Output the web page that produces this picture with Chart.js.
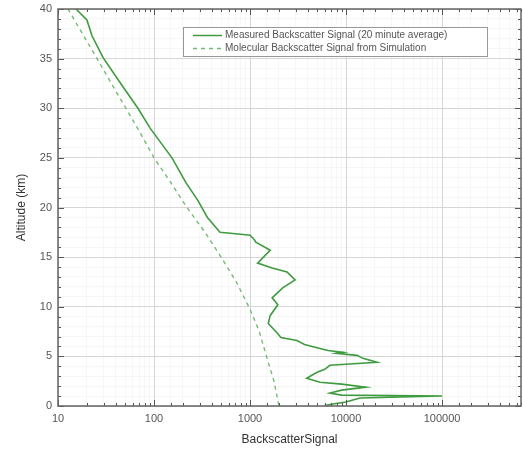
<!DOCTYPE html>
<html>
<head>
<meta charset="utf-8">
<script src="https://cdn.jsdelivr.net/npm/chart.js@4"></script>
<style>
  html, body { margin: 0; padding: 0; background: #fff; }
  #wrap { width: 523px; height: 451px; }
</style>
</head>
<body>
<div id="wrap"><canvas id="myChart" width="523" height="451"></canvas></div>
<script>
// measured backscatter (20 min average)
const measuredAlt = [40, 38.9, 37.3, 35.1, 32.5, 30, 28, 25, 22.5, 20.7, 19, 17.5, 17.3, 17.2, 17.0, 16.8, 16.5,
  15.7, 14.4, 13.9, 13.5, 12.7, 11.9, 10.9, 10.2, 9.1, 8.3, 7.4, 6.9, 6.6, 6.2, 5.8, 5.6, 5.4, 5.3, 5.1, 4.8,
  4.4, 4.1, 3.7, 3.4, 3.1, 2.8, 2.4, 2.2, 1.9, 1.6, 1.3, 1.1, 1.0, 0.8, 0.6, 0.4, 0.2, 0.05];
const measuredSignal = [15.4, 20, 22.6, 29.5, 45, 68, 91, 154, 215, 287, 360, 487, 800, 1000, 1050, 1100, 1150,
  1625, 1200, 1700, 2430, 2950, 2190, 1700, 1950, 1620, 1550, 1900, 2100, 3080, 3700, 5350, 6500, 9350, 8000, 13000, 15000,
  21000, 6800, 6000, 5000, 4400, 3900, 5350, 9000, 16000, 9000, 6800, 9000, 100000, 14000, 11800, 10000, 7300, 6000];

// molecular backscatter from simulation
const molecularAlt = [40, 37.5, 35, 32.5, 30, 27.5, 25, 22.5, 20, 17.5, 14.8, 12.5, 9.75, 7.5, 4.7, 2.5, 0];
const molecularSignal = [12.7, 18, 25.5, 36, 51, 72, 100, 150, 220, 340, 515, 720, 1000, 1250, 1515, 1780, 2000];

const xTickLabels = [10, 100, 1000, 10000, 100000];
const yTickLabels = [0, 5, 10, 15, 20, 25, 30, 35, 40];

const legendLabels = ['Measured Backscatter Signal (20 minute average)', 'Molecular Backscatter Signal from Simulation'];

const solidGreen = '#3f9b3f';
const dashGreen = '#74bb74';

const toPoints = (xs, ys) => xs.map((v, i) => ({ x: v, y: ys[i] }));

const isDecade = v => Math.abs(Math.log10(v) - Math.round(Math.log10(v))) < 1e-6;

// inward tick marks on all four sides plus a boxed legend
const framePlugin = {
  id: 'frame',
  afterDraw(chart) {
    const { ctx, chartArea: a, scales } = chart;
    ctx.save();
    ctx.strokeStyle = '#555';
    ctx.lineWidth = 1;
    ctx.beginPath();
    scales.x.ticks.forEach(t => {
      if (t.value > scales.x.max) return;
      const px = Math.round(scales.x.getPixelForValue(t.value)) + 0.5;
      const len = isDecade(t.value) ? 6 : 3;
      ctx.moveTo(px, a.bottom); ctx.lineTo(px, a.bottom - len);
      ctx.moveTo(px, a.top); ctx.lineTo(px, a.top + len);
    });
    scales.y.ticks.forEach(t => {
      const py = Math.round(scales.y.getPixelForValue(t.value)) + 0.5;
      const len = t.value % 5 === 0 ? 6 : 3;
      ctx.moveTo(a.left, py); ctx.lineTo(a.left + len, py);
      ctx.moveTo(a.right, py); ctx.lineTo(a.right - len, py);
    });
    ctx.stroke();
    ctx.strokeStyle = '#666';
    ctx.lineWidth = 1.5;
    ctx.strokeRect(a.left, a.top, a.right - a.left, a.bottom - a.top);

    // legend
    const lx = 183.5, ly = 27.5, lw = 304, lh = 29;
    ctx.fillStyle = '#fff';
    ctx.fillRect(lx, ly, lw, lh);
    ctx.strokeStyle = '#999';
    ctx.lineWidth = 1;
    ctx.strokeRect(lx, ly, lw, lh);
    ctx.font = '10px "Liberation Sans", Arial, sans-serif';
    ctx.fillStyle = '#555';
    ctx.textBaseline = 'middle';
    const rows = [ly + 8, ly + 21];
    ctx.lineWidth = 1.5;
    ctx.strokeStyle = solidGreen;
    ctx.setLineDash([]);
    ctx.beginPath(); ctx.moveTo(193, rows[0]); ctx.lineTo(222, rows[0]); ctx.stroke();
    ctx.strokeStyle = dashGreen;
    ctx.setLineDash([4, 4]);
    ctx.beginPath(); ctx.moveTo(193, rows[1]); ctx.lineTo(222, rows[1]); ctx.stroke();
    ctx.setLineDash([]);
    ctx.fillText(legendLabels[0], 225, rows[0]);
    ctx.fillText(legendLabels[1], 225, rows[1]);
    ctx.restore();
  }
};

document.addEventListener('DOMContentLoaded', () => {
  const ctx = document.getElementById('myChart').getContext('2d');

  new Chart(ctx, {
    type: 'scatter',
    data: {
      datasets: [{
        label: legendLabels[0],
        data: toPoints(measuredSignal, measuredAlt),
        showLine: true,
        borderColor: solidGreen,
        borderWidth: 1.6,
        pointRadius: 0,
        fill: false
      }, {
        label: legendLabels[1],
        data: toPoints(molecularSignal, molecularAlt),
        showLine: true,
        borderColor: dashGreen,
        borderWidth: 1.4,
        borderDash: [4, 4],
        pointRadius: 0,
        fill: false
      }]
    },
    options: {
      responsive: false,
      animation: false,
      layout: { padding: { top: 9, right: 2, left: 14, bottom: 0 } },
      plugins: { legend: { display: false }, tooltip: { enabled: false } },
      scales: {
        x: {
          type: 'logarithmic',
          min: 10,
          max: 665000,
          afterFit: s => { s.height = 45; s.paddingRight = 0; s.paddingLeft = 0; },
          grid: {
            drawTicks: false,
            color: c => (c.tick && isDecade(c.tick.value)) ? '#d6d6d6' : 'rgba(0,0,0,0.03)'
          },
          border: { display: false },
          ticks: {
            autoSkip: false,
            maxRotation: 0,
            padding: 6,
            color: '#555',
            font: { family: '"Liberation Sans", Arial, sans-serif', size: 11 },
            callback: v => xTickLabels.includes(v) ? String(v) : ''
          },
          title: {
            display: true,
            text: 'BackscatterSignal',
            color: '#333',
            padding: { top: 2, bottom: 4 },
            font: { family: '"Liberation Sans", Arial, sans-serif', size: 12 }
          }
        },
        y: {
          min: 0,
          max: 40,
          afterFit: s => { s.width = 44; s.paddingTop = 0; s.paddingBottom = 0; },
          grid: {
            drawTicks: false,
            color: c => (c.tick && c.tick.value % 5 === 0) ? '#d6d6d6' : 'rgba(0,0,0,0.03)'
          },
          border: { display: false },
          ticks: {
            stepSize: 1,
            autoSkip: false,
            padding: 6,
            color: '#555',
            font: { family: '"Liberation Sans", Arial, sans-serif', size: 11 },
            callback: v => yTickLabels.includes(v) ? String(v) : ''
          },
          title: {
            display: true,
            text: 'Altitude (km)',
            color: '#333',
            padding: { top: 0, bottom: 4 },
            font: { family: '"Liberation Sans", Arial, sans-serif', size: 12 }
          }
        }
      }
    },
    plugins: [framePlugin]
  });
});
</script>
</body>
</html>
